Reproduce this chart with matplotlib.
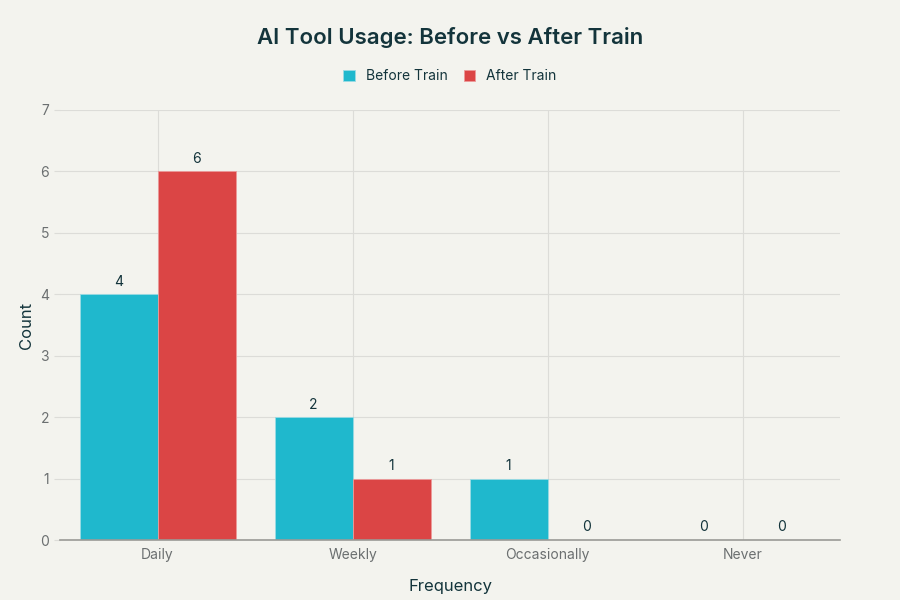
import matplotlib
matplotlib.use('Agg')
import matplotlib.pyplot as plt
import numpy as np

# data
categories = ['Daily', 'Weekly', 'Occasionally', 'Never']
before_train = [4, 2, 1, 0]
after_train = [6, 1, 0, 0]

plt.rcParams['font.family'] = ['Inter', 'DejaVu Sans']

bg = '#F3F3EE'
dark = '#13343B'
grey = '#6B6F70'

fig = plt.figure(figsize=(9, 6), dpi=100, facecolor=bg)
ax = fig.add_axes([0.0667, 0.1, 0.8667, 0.7167], facecolor=bg)

x = np.arange(len(categories))
w = 0.4
b1 = ax.bar(x - w / 2, before_train, w, color='#1FB8CD', edgecolor='#9ADCE5',
            linewidth=0.6, label='Before Train', zorder=3)
b2 = ax.bar(x + w / 2, after_train, w, color='#DB4545', edgecolor='#EC9A9A',
            linewidth=0.6, label='After Train', zorder=3)

for bars in (b1, b2):
    for r in bars:
        h = r.get_height()
        ax.annotate(str(int(h)), (r.get_x() + r.get_width() / 2, h),
                    xytext=(0, 4), textcoords='offset points',
                    ha='center', va='bottom', fontsize=10, color=dark)

ax.set_xlim(-0.5, 3.5)
ax.set_ylim(0, 7)
ax.set_xticks(x)
ax.set_xticklabels(categories)
ax.set_yticks(range(8))
ax.grid(True, color='#DCDCD8', linewidth=0.8, zorder=0)
for s in ['top', 'right', 'left']:
    ax.spines[s].set_visible(False)
ax.spines['bottom'].set_color('#9A9A96')
ax.spines['bottom'].set_linewidth(1.2)
ax.spines['bottom'].set_zorder(4)
ax.tick_params(axis='both', length=0, colors=grey, labelsize=10, pad=6)
ax.tick_params(axis='y', length=4, color='#DCDCD8', pad=4)

ax.set_xlabel('Frequency', fontsize=12, color=dark)
ax.set_ylabel('Count', fontsize=12, color=dark)
ax.xaxis.set_label_coords(0.5, -0.09)
ax.yaxis.set_label_coords(-0.033, 0.5)

fig.text(0.5, 0.937, 'AI Tool Usage: Before vs After Train', ha='center',
         va='center', fontsize=16, fontweight='semibold', color=dark)
fig.legend(loc='center', bbox_to_anchor=(0.5, 0.873), ncol=2, frameon=False,
           fontsize=10, handlelength=0.8, handleheight=0.8, columnspacing=1.2,
           handletextpad=0.8, labelcolor=dark)

plt.savefig('out.png', dpi=100, facecolor=bg)
plt.close()
